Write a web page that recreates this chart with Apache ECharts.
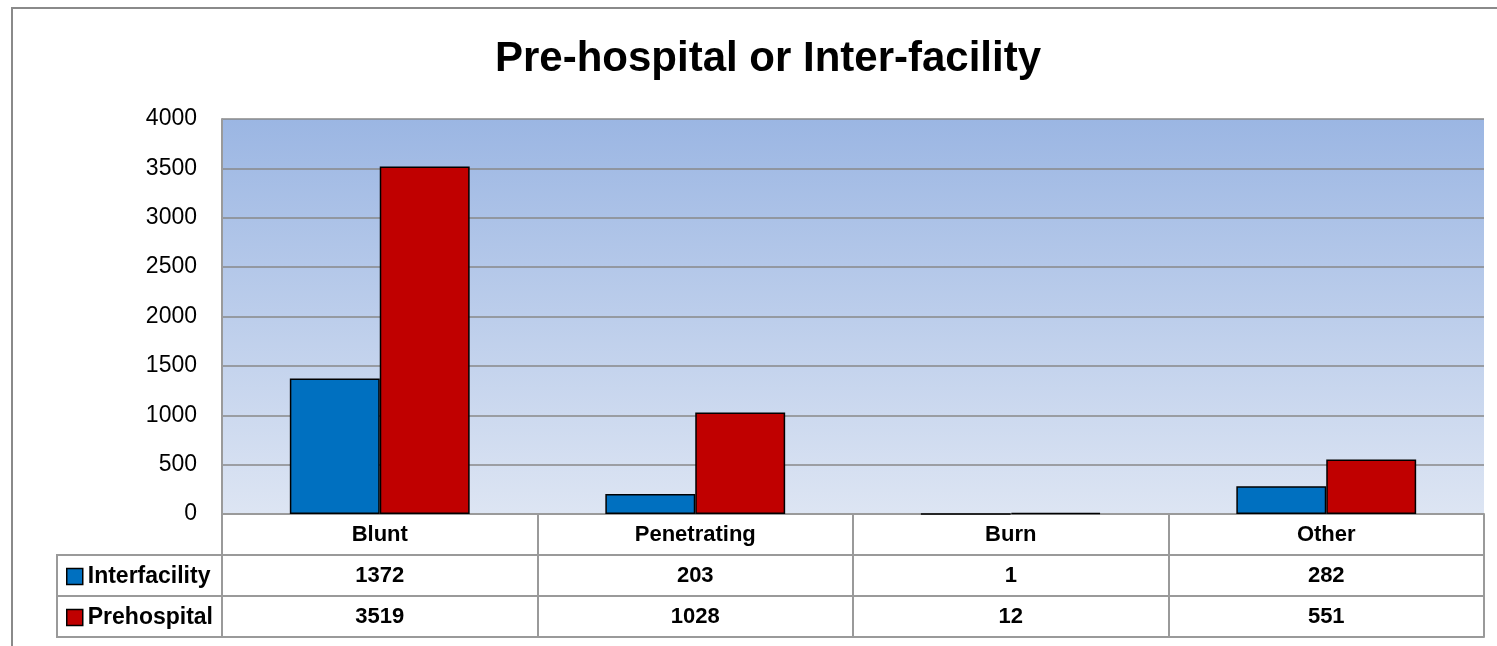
<!DOCTYPE html>
<html>
<head>
<meta charset="utf-8">
<script src="https://cdn.jsdelivr.net/npm/echarts@6/dist/echarts.min.js"></script>
<style>
html,body{margin:0;padding:0;background:#fff;}
#main{width:1497px;height:646px;}
</style>
</head>
<body>
<div id="main"></div>
<script>
const titleText = 'Pre-hospital or Inter-facility';
const categories = ['Blunt', 'Penetrating', 'Burn', 'Other'];
const seriesNames = ['Interfacility', 'Prehospital'];
const interfacility = [1372, 203, 1, 282];
const prehospital = [3519, 1028, 12, 551];
const yMin = 0, yMax = 4000, yStep = 500;

const FONT = 'Liberation Sans';
const lineGray = '#9a9a9a';

const chart = echarts.init(document.getElementById('main'), null, {renderer: 'canvas'});

const tableAxis = (offset, data, showLabel) => ({
  type: 'category',
  gridIndex: 0,
  position: 'bottom',
  offset: offset,
  data: data,
  axisLine: {show: true, lineStyle: {color: lineGray, width: 2}},
  axisTick: {show: false},
  axisLabel: {show: showLabel, margin: 21, verticalAlign: 'middle', fontFamily: FONT, fontWeight: 'bold', fontSize: 22, color: '#000'},
  splitLine: {show: false}
});

const legendFor = (name, top) => ({
  orient: 'horizontal',
  left: 66,
  top: top,
  padding: 0,
  itemWidth: 16,
  itemHeight: 16,
  itemGap: 0,
  icon: 'rect',
  data: [name],
  itemStyle: {borderColor: '#000', borderWidth: 1.5},
  textStyle: {fontFamily: FONT, fontWeight: 'bold', fontSize: 23, color: '#000', padding: [3, 0, 0, 0]}
});

chart.setOption({
  animation: false,
  backgroundColor: '#fff',
  title: {
    text: titleText,
    left: 763,
    top: 33,
    textAlign: 'center',
    textStyle: {fontFamily: FONT, fontWeight: 'bold', fontSize: 42, color: '#000'}
  },
  legend: [legendFor(seriesNames[0], 565), legendFor(seriesNames[1], 606)],
  grid: {
    left: 222, right: 13, top: 119, bottom: 132,
    show: true,
    borderWidth: 0,
    backgroundColor: new echarts.graphic.LinearGradient(0, 0, 0, 1, [
      {offset: 0, color: '#9bb6e3'},
      {offset: 1, color: '#dde5f3'}
    ])
  },
  xAxis: [
    {
      type: 'category',
      data: categories,
      axisLine: {show: true, lineStyle: {color: lineGray, width: 2}},
      axisTick: {show: true, inside: false, length: 123, lineStyle: {color: lineGray, width: 2}},
      axisLabel: {margin: 21, verticalAlign: 'middle', fontFamily: FONT, fontWeight: 'bold', fontSize: 22, color: '#000'},
      splitLine: {show: false}
    },
    tableAxis(41, interfacility.map(String), true),
    tableAxis(82, prehospital.map(String), true),
    tableAxis(123, categories, false)
  ],
  yAxis: {
    type: 'value',
    min: yMin, max: yMax, interval: yStep,
    axisLine: {show: true, lineStyle: {color: lineGray, width: 2}},
    axisTick: {show: false},
    axisLabel: {margin: 25, fontFamily: FONT, fontSize: 23, color: '#000', formatter: v => String(v)},
    splitLine: {show: true, lineStyle: {color: '#888', width: 1.5}}
  },
  series: [
    {
      name: seriesNames[0], type: 'bar', xAxisIndex: 0, data: interfacility,
      barGap: '0%', barCategoryGap: '43%',
      itemStyle: {color: '#0070c0', borderColor: '#000', borderWidth: 1.5}
    },
    {
      name: seriesNames[1], type: 'bar', xAxisIndex: 0, data: prehospital,
      barGap: '0%', barCategoryGap: '43%',
      itemStyle: {color: '#c00000', borderColor: '#000', borderWidth: 1.5}
    }
  ],
  graphic: [
    {type: 'polyline', shape: {points: [[12, 646], [12, 8], [1497, 8]]}, style: {stroke: '#8a8a8a', lineWidth: 2, fill: null}, silent: true},
    {type: 'rect', shape: {x: 57, y: 555, width: 165, height: 82}, style: {stroke: lineGray, lineWidth: 2, fill: null}, silent: true},
    {type: 'line', shape: {x1: 57, y1: 596, x2: 222, y2: 596}, style: {stroke: lineGray, lineWidth: 2}, silent: true}
  ]
});
</script>
</body>
</html>
